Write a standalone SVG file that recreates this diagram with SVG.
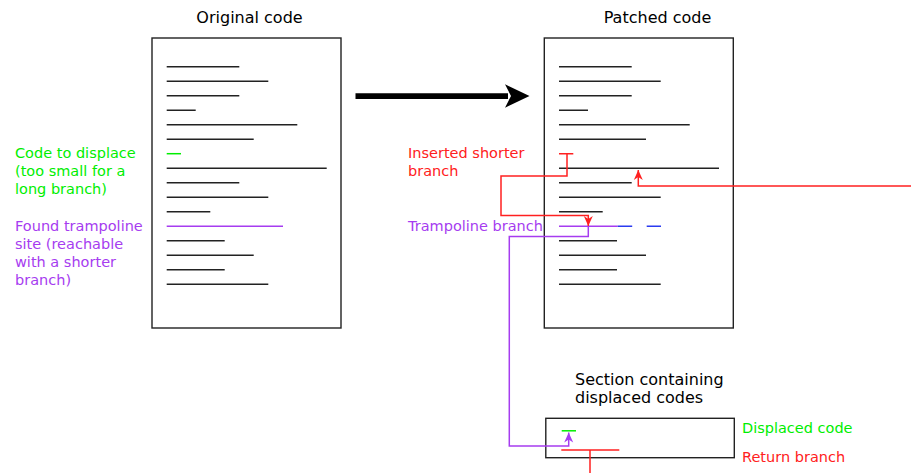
<svg xmlns="http://www.w3.org/2000/svg" width="911" height="473" viewBox="0 0 911 473">
  <style>
    .title { font-family: "DejaVu Sans", "Liberation Sans", sans-serif; font-size: 16px; fill: #000; }
    .label { font-family: "DejaVu Sans", "Liberation Sans", sans-serif; font-size: 14.5px; }
    .box { fill: #fff; stroke: #222; stroke-width: 1.4; }
    .code { stroke: #222; stroke-width: 1.5; fill: none; }
    .green { stroke: #00ee00; fill: none; stroke-width: 1.5; }
    .red { stroke: #ff2020; fill: none; stroke-width: 1.5; }
    .purple { stroke: #a63cf0; fill: none; stroke-width: 1.5; }
    .blue { stroke: #2b3bf0; fill: none; stroke-width: 1.5; stroke-dasharray: 14.5 14.5; }
  </style>
  <defs>
    <marker id="headRed" viewBox="-11 -6 12 12" markerWidth="12" markerHeight="12" refX="0" refY="0" orient="auto" markerUnits="userSpaceOnUse">
      <path d="M0,0 L-10,-4.5 L-7,0 L-10,4.5 Z" fill="#ff2020"/>
    </marker>
    <marker id="headPurple" viewBox="-11 -6 12 12" markerWidth="12" markerHeight="12" refX="0" refY="0" orient="auto" markerUnits="userSpaceOnUse">
      <path d="M0,0 L-10,-4.5 L-7,0 L-10,4.5 Z" fill="#a63cf0"/>
    </marker>
  </defs>

  <!-- Original code listing -->
  <g id="original">
    <text class="title" x="249.5" y="23" text-anchor="middle">Original code</text>
    <rect class="box" x="152" y="38" width="189" height="290"/>
    <path class="code" d="M166.7,66.7H239.3 M166.7,81.2H268.3 M166.7,95.7H239.3 M166.7,110.2H195.7 M166.7,124.7H297.3 M166.7,139.2H253.7 M166.7,168.2H326.7 M166.7,182.7H239.3 M166.7,197.2H268.3 M166.7,211.7H210.3 M166.7,240.7H224.7 M166.7,255.2H253.7 M166.7,269.7H224.7 M166.7,284.2H268.3"/>
    <path class="green" d="M166.7,153.7H181"/>
    <path class="purple" d="M166.7,226.2H283"/>
  </g>

  <!-- Patched code listing -->
  <g id="patched">
    <text class="title" x="657.5" y="23" text-anchor="middle">Patched code</text>
    <rect class="box" x="544.3" y="38" width="189" height="290"/>
    <path class="code" d="M559,66.7H631.7 M559,81.2H660.7 M559,95.7H631.7 M559,110.2H588 M559,124.7H689.7 M559,139.2H646 M559,168.2H719 M559,182.7H631.7 M559,197.2H660.7 M559,211.7H602.7 M559,240.7H617 M559,255.2H646 M559,269.7H617 M559,284.2H660.7"/>
    <path class="purple" d="M559,226.2H617.7"/>
    <path class="blue" d="M617.7,226.2H661"/>
  </g>

  <!-- Section holding the relocated instructions -->
  <g id="section">
    <text class="title" x="575" y="384.5">Section containing</text>
    <text class="title" x="575" y="402.5">displaced codes</text>
    <rect class="box" x="545.8" y="418.3" width="188.5" height="39.4"/>
  </g>

  <!-- Side labels -->
  <g id="label-displace">
    <text class="label" x="15" y="158" fill="#00ee00">Code to displace</text>
    <text class="label" x="15" y="176" fill="#00ee00">(too small for a</text>
    <text class="label" x="15" y="194" fill="#00ee00">long branch)</text>
  </g>
  <g id="label-trampoline-site">
    <text class="label" x="15" y="231" fill="#a63cf0">Found trampoline</text>
    <text class="label" x="15" y="249" fill="#a63cf0">site (reachable</text>
    <text class="label" x="15" y="267" fill="#a63cf0">with a shorter</text>
    <text class="label" x="15" y="285" fill="#a63cf0">branch)</text>
  </g>
  <g id="label-inserted">
    <text class="label" x="408" y="158" fill="#ff2020">Inserted shorter</text>
    <text class="label" x="408" y="176" fill="#ff2020">branch</text>
  </g>
  <g id="label-trampoline">
    <text class="label" x="408" y="231" fill="#a63cf0">Trampoline branch</text>
  </g>
  <g id="label-displaced">
    <text class="label" x="742" y="433" fill="#00ee00">Displaced code</text>
  </g>
  <g id="label-return">
    <text class="label" x="742" y="462" fill="#ff2020">Return branch</text>
  </g>

  <!-- Connectors -->
  <g id="connectors">
    <!-- patch direction -->
    <path d="M355.5,93.2H508V99H355.5Z" fill="#000"/>
    <path d="M529.5,96 L505,84.3 L511,96 L505,107.7 Z" fill="#000"/>
    <!-- inserted short branch to trampoline -->
    <path class="red" d="M559,153.7H573.3 M567,153.7V176H501V215.5H588.3V226" marker-end="url(#headRed)"/>
    <!-- trampoline to displaced code -->
    <path class="purple" d="M588.3,226.2V236.5H509.3V446H568.7V432.5" marker-end="url(#headPurple)"/>
    <path class="green" d="M561.7,430.8H576"/>
    <!-- return branch back into patched code -->
    <path class="red" d="M561.3,450H619.3 M590,450V473"/>
    <path class="red" d="M911,186H638.3V170" marker-end="url(#headRed)"/>
  </g>
</svg>
